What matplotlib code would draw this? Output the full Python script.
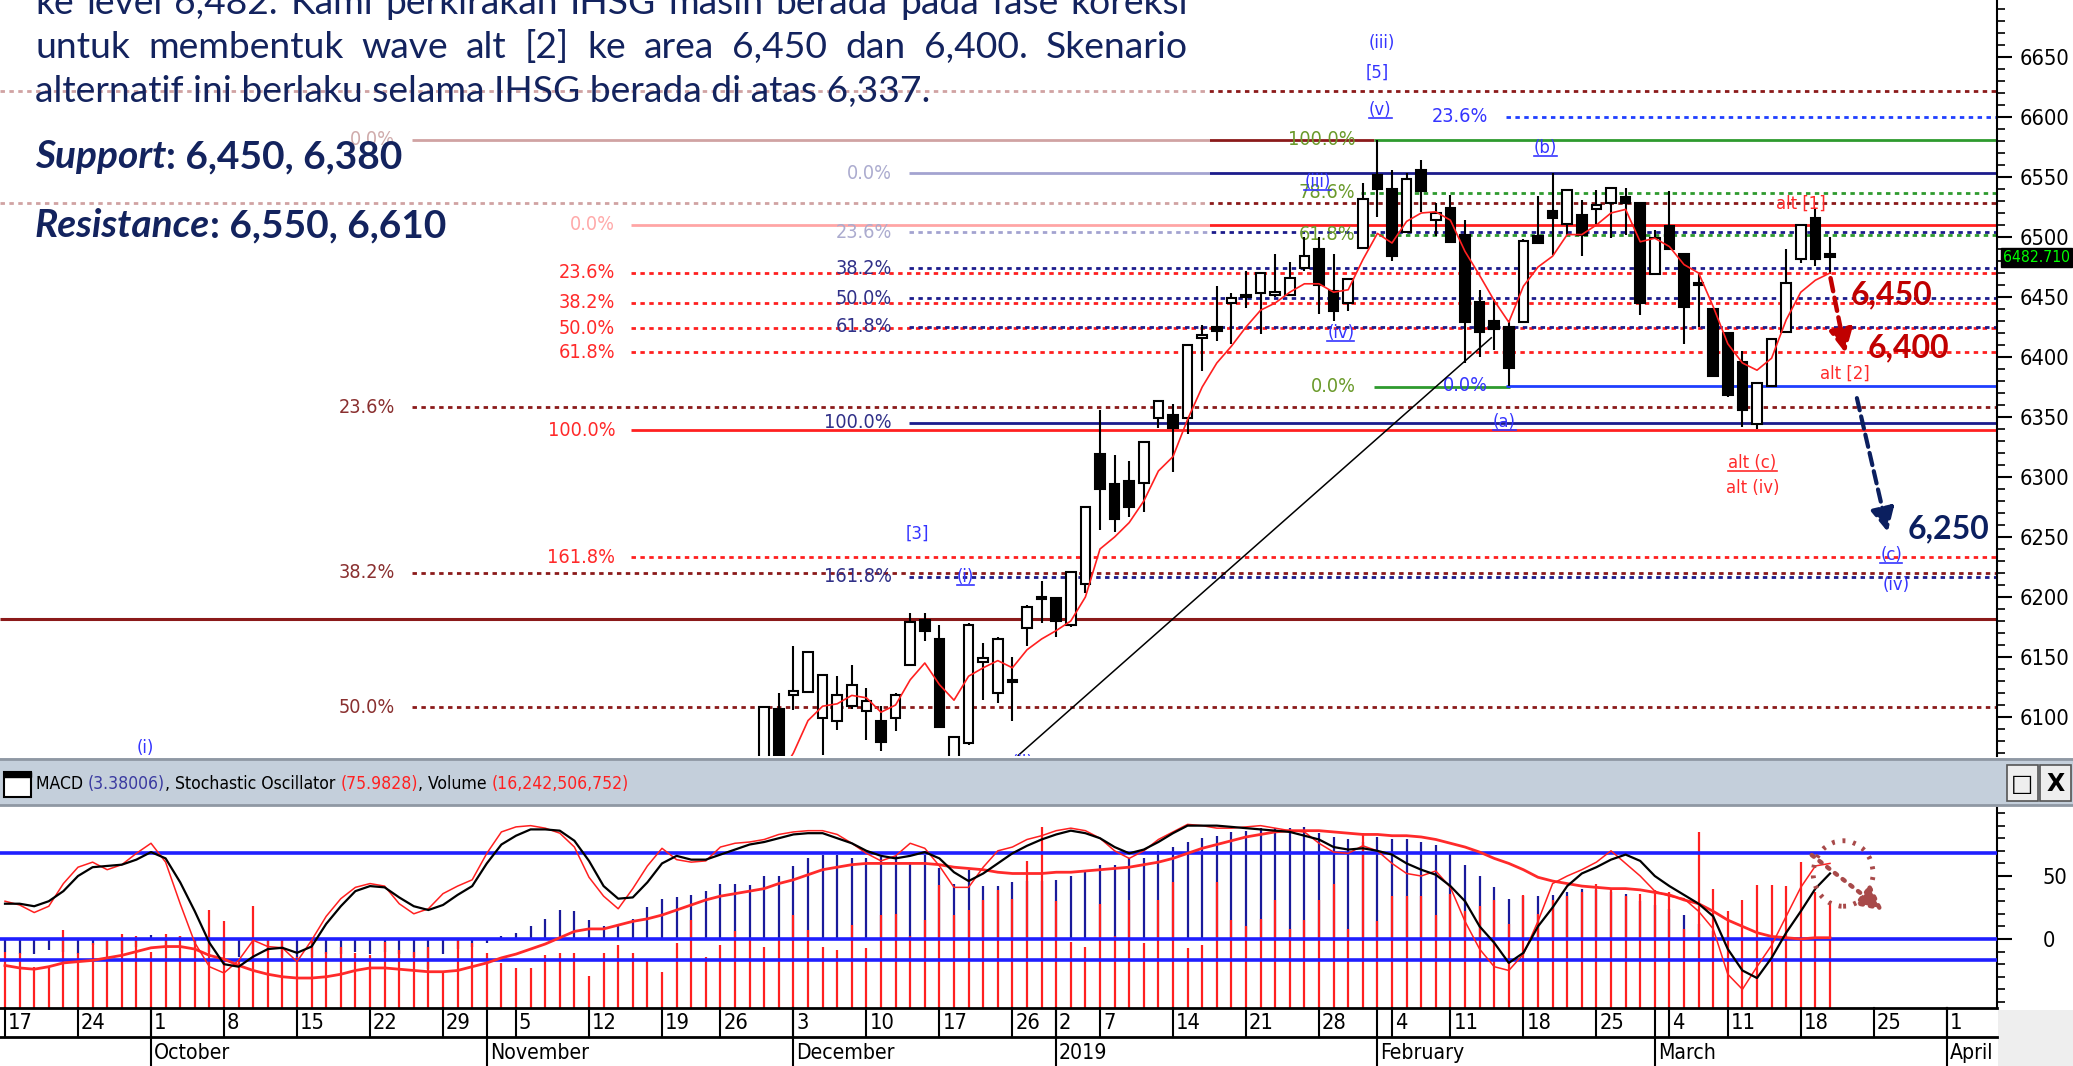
import numpy as np
import pandas as pd
import matplotlib
matplotlib.use("Agg")
import matplotlib.pyplot as plt
from matplotlib import font_manager as fm
from matplotlib import transforms as mtrans
from matplotlib.patches import Rectangle, Ellipse

W, H = 2073, 1066

# ---------------- data ----------------
# IDX trading calendar (exchange holidays removed)
holidays = ["2018-11-20", "2018-12-24", "2018-12-25", "2018-12-31",
            "2019-01-01", "2019-02-05", "2019-03-07"]
days = pd.bdate_range("2018-09-17", "2019-04-05")
days = days[~days.isin(pd.to_datetime(holidays))]

# candles, trading day index 52 (2018-12-04) .. 125 (2019-03-20)
cand_start = 52
opens = [6040, 6107, 6118, 6121, 6099, 6097, 6109, 6105, 6097, 6099,
         6143, 6181, 6165, 6050, 6078, 6146, 6120, 6129, 6174, 6198,
         6199, 6177, 6211, 6319, 6294, 6297, 6295, 6349, 6352, 6349,
         6416, 6425, 6445, 6450, 6453, 6452, 6452, 6474, 6490, 6455,
         6445, 6491, 6552, 6540, 6504, 6556, 6514, 6524, 6502, 6446,
         6430, 6425, 6429, 6501, 6522, 6511, 6518, 6523, 6528, 6533,
         6528, 6469, 6509, 6486, 6460, 6440, 6420, 6396, 6344, 6376,
         6421, 6482, 6516, 6486]
highs = [6109, 6120, 6159, 6155, 6136, 6134, 6143, 6124, 6109, 6120,
         6187, 6187, 6177, 6083, 6178, 6162, 6167, 6150, 6193, 6213,
         6200, 6222, 6276, 6356, 6318, 6313, 6330, 6364, 6361, 6411,
         6427, 6459, 6453, 6472, 6471, 6486, 6479, 6500, 6500, 6486,
         6466, 6545, 6581, 6556, 6553, 6564, 6528, 6535, 6514, 6456,
         6448, 6431, 6498, 6534, 6553, 6540, 6531, 6539, 6542, 6541,
         6529, 6506, 6538, 6487, 6470, 6441, 6421, 6405, 6379, 6416,
         6490, 6511, 6524, 6500]
lows = [6030, 6040, 6106, 6120, 6068, 6089, 6107, 6081, 6072, 6088,
        6143, 6163, 6092, 6040, 6077, 6114, 6112, 6097, 6159, 6178,
        6167, 6175, 6203, 6256, 6254, 6267, 6271, 6341, 6304, 6336,
        6388, 6413, 6411, 6441, 6419, 6450, 6451, 6472, 6436, 6430,
        6438, 6490, 6517, 6480, 6503, 6521, 6501, 6495, 6395, 6400,
        6406, 6376, 6428, 6494, 6485, 6502, 6484, 6511, 6499, 6502,
        6435, 6468, 6489, 6411, 6425, 6383, 6367, 6342, 6340, 6375,
        6420, 6478, 6476, 6469]
closes = [6108, 6045, 6122, 6154, 6135, 6118, 6127, 6113, 6079, 6118,
          6179, 6172, 6092, 6083, 6177, 6149, 6165, 6131, 6192, 6200,
          6180, 6221, 6275, 6290, 6265, 6275, 6329, 6363, 6341, 6410,
          6418, 6422, 6449, 6452, 6470, 6454, 6466, 6484, 6460, 6438,
          6465, 6532, 6540, 6484, 6548, 6538, 6520, 6496, 6429, 6421,
          6423, 6391, 6497, 6495, 6516, 6539, 6502, 6527, 6541, 6528,
          6445, 6499, 6490, 6442, 6462, 6384, 6368, 6356, 6378, 6415,
          6462, 6510, 6482, 6483]
last_close = 6482.710

# moving average, trading day 53 .. 125
ma_start = 53
ma = [6050, 6070, 6097, 6109, 6111, 6118, 6116, 6104, 6110, 6131,
      6145, 6127, 6114, 6134, 6141, 6147, 6141, 6156, 6165, 6172,
      6180, 6200, 6240, 6250, 6262, 6280, 6305, 6317, 6348, 6375,
      6395, 6409, 6425, 6439, 6445, 6454, 6461, 6461, 6454, 6456,
      6481, 6503, 6495, 6513, 6520, 6521, 6514, 6488, 6468, 6447,
      6429, 6459, 6475, 6484, 6502, 6502, 6510, 6520, 6523, 6496,
      6499, 6492, 6477, 6470, 6442, 6411, 6395, 6389, 6399, 6431,
      6454, 6464, 6470]

# trendline (trading day index, price)
trend_x = [69.4, 101.8]
trend_y = [6068, 6416]

# fibonacci sets: labels, prices
red_fib = (["0.0%", "23.6%", "38.2%", "50.0%", "61.8%", "100.0%", "161.8%"],
           [6510, 6470, 6445, 6424, 6404, 6339, 6233])
navy_fib = (["0.0%", "23.6%", "38.2%", "50.0%", "61.8%", "100.0%", "161.8%"],
            [6553, 6504, 6474, 6449, 6425, 6345, 6217])
brown_fib = (["0.0%", "23.6%", "38.2%", "50.0%"], [6581, 6358, 6220, 6108])
green_fib = (["100.0%", "78.6%", "61.8%", "0.0%"], [6581, 6537, 6502, 6375])
blue_fib = (["23.6%", "0.0%"], [6600, 6376])
wide_dotted = [6622, 6528]
wide_solid = [6182]

# wave labels: text, day index, price, colour, underline
waves = [("(iii)", 94.3, 6662, "b", False), ("[5]", 94.0, 6637, "b", False),
         ("(v)", 94.2, 6606, "b", True), ("(b)", 105.5, 6574, "b", True),
         ("(iii)", 89.9, 6546, "b", True), ("(iv)", 91.5, 6420, "b", True),
         ("(a)", 102.7, 6346, "b", True), ("(c)", 129.2, 6235, "b", True),
         ("(iv)", 129.5, 6210, "b", False), ("[3]", 62.5, 6253, "b", False),
         ("(i)", 65.8, 6217, "b", True), ("(i)", 9.6, 6074, "b", False),
         ("(ii)", 69.7, 6062, "b", False),
         ("alt [1]", 123.0, 6528, "r", False), ("alt [2]", 126.0, 6386, "r", False),
         ("alt (c)", 119.7, 6312, "r", True), ("alt (iv)", 119.7, 6291, "r", False)]
targets = [("6,450", 129.2, 6452, "#c00000"), ("6,400", 130.4, 6408, "#c00000"),
           ("6,250", 133.1, 6257, "#0b1f5f")]

# lower panel, trading day 0 .. 125 (panel units, 0 = zero line)
stoch_k = [30, 27, 21, 26, 44, 57, 61, 55, 59, 68,
           76, 61, 28, -3, -22, -27, -17, -1, -6, -7,
           -18, -1, 18, 32, 41, 44, 42, 28, 20, 24,
           36, 42, 47, 68, 85, 89, 90, 88, 84, 73,
           49, 34, 24, 40, 58, 72, 63, 61, 62, 73,
           76, 77, 79, 83, 85, 86, 86, 83, 76, 68,
           62, 66, 76, 72, 58, 41, 41, 57, 70, 73,
           79, 82, 86, 88, 86, 80, 70, 64, 70, 79,
           85, 91, 90, 88, 88, 89, 90, 88, 86, 85,
           76, 69, 68, 74, 70, 60, 52, 50, 54, 41,
           14, -8, -22, -25, -12, 14, 44, 50, 55, 61,
           70, 60, 50, 38, 34, 32, 22, 8, -28, -40,
           -22, -5, 18, 41, 58, 60]
stoch_d = [28, 28, 26, 30, 38, 50, 57, 58, 59, 63,
           69, 64, 45, 22, -3, -20, -22, -14, -8, -7,
           -11, -6, 12, 26, 38, 42, 41, 33, 26, 23,
           27, 35, 42, 60, 75, 82, 87, 87, 86, 78,
           62, 42, 32, 33, 45, 60, 66, 63, 63, 67,
           71, 75, 77, 80, 83, 84, 84, 80, 76, 70,
           66, 64, 66, 69, 64, 53, 46, 52, 60, 68,
           74, 79, 83, 86, 84, 80, 73, 68, 71, 77,
           84, 90, 90, 90, 89, 88, 87, 86, 85, 82,
           79, 73, 71, 72, 70, 67, 60, 55, 51, 42,
           30, 10, -3, -19, -11, 10, 25, 42, 52, 57,
           63, 67, 62, 50, 42, 35, 28, 18, -8, -25,
           -31, -15, 5, 22, 40, 52]
macd = [-21, -23, -24, -22, -19, -18, -17, -15, -13, -10,
        -7, -6, -6, -8, -13, -16, -21, -25, -28, -30,
        -31, -31, -30, -28, -25, -23, -23, -24, -25, -26,
        -26, -25, -22, -19, -15, -12, -8, -4, 1, 6,
        8, 8, 11, 14, 16, 19, 23, 27, 31, 34,
        36, 38, 40, 44, 47, 51, 55, 57, 59, 60,
        60, 60, 60, 60, 59, 57, 56, 55, 53, 52,
        52, 52, 53, 53, 54, 55, 56, 57, 59, 61,
        64, 68, 72, 75, 78, 81, 83, 85, 86, 86,
        86, 85, 84, 83, 83, 82, 82, 81, 79, 76,
        73, 69, 64, 60, 55, 49, 46, 44, 42, 41,
        40, 40, 39, 37, 35, 31, 28, 22, 15, 10,
        5, 2, 1, 0, 1, 1]
macd_hist = [-10, -12, -12, -9, -10, -12, -5, -9, -10, -6,
             3, -6, 2, -5, -10, -12, -14, -12, -10, -14,
             -16, -14, -12, -12, -10, -12, -10, -12, -14, -24,
             -12, -8, -6, -3, 2, 5, 10, 16, 23, 22,
             15, 10, 12, 16, 25, 32, 33, 35, 38, 44,
             44, 43, 50, 50, 58, 64, 67, 67, 64, 64,
             65, 66, 61, 67, 56, 44, 55, 42, 42, 45,
             46, 46, 47, 50, 55, 59, 59, 64, 64, 70,
             73, 77, 80, 82, 85, 86, 88, 88, 88, 89,
             84, 81, 79, 77, 81, 79, 79, 77, 75, 68,
             59, 50, 41, 32, 34, 34, 35, 37, 40, 39,
             37, 36, 30, 27, 24, 19, 12, 6, 2, 0,
             -1, -2, -1, 0, 1, 1]
volume = [-10, -11, -22, -22, 7, -11, -3, 0, 4, 2,
          -10, 4, 2, 0, 23, 14, -17, 26, 0, -1,
          -14, -1, -10, -6, -11, -13, -2, -9, -10, -6,
          -27, 0, -3, -11, -19, -23, -23, -13, -11, -11,
          -29, -11, -5, -11, -17, -26, -3, 15, -14, -5,
          6, 0, -6, 0, 19, 7, -6, -9, 11, -7,
          19, 20, 2, 15, 43, 19, 23, 31, 39, 32,
          62, 89, 30, -2, -6, 28, 2, 31, -3, 31,
          45, -7, -5, 45, 15, 10, 16, 31, 8, 15,
          31, 44, 8, 84, 14, 34, 34, 34, 19, 36,
          22, 26, 31, 12, 35, 20, 31, 34, 37, 44,
          40, 34, 36, 39, 37, 8, 85, 40, 22, 31,
          43, 43, 42, 61, 37, 30]

para = ["ke level 6,482. Kami perkirakan IHSG masih berada pada fase koreksi",
        "untuk membentuk wave alt [2] ke area 6,450 dan 6,400. Skenario",
        "alternatif ini berlaku selama IHSG berada di atas 6,337."]

# ---------------- fonts ----------------
entries = fm.fontManager.ttflist
names = {f.name for f in entries}
if "Liberation Sans Narrow" in names:
    NKW, NS = dict(family="Liberation Sans Narrow"), 1.18
elif any(f.name == "DejaVu Sans" and "condensed" in str(f.stretch) for f in entries):
    NKW, NS = dict(family="DejaVu Sans", fontstretch="condensed"), 0.98
else:
    NKW, NS = dict(family="Liberation Sans"), 1.0
BODY = "Lato" if "Lato" in names else "DejaVu Sans"
NAVY = "#13235e"
BLUE_T = "#3535ff"
RED_T = "#ff2a2a"


def nf(size):
    return dict(fontsize=size * NS, **NKW)


# ---------------- figure ----------------
fig = plt.figure(figsize=(W / 100, H / 100), dpi=100)
fig.patch.set_facecolor("white")
PX = mtrans.Affine2D().scale(1, -1).translate(0, H)   # pixel coords, origin top-left


def frac(x0, y0, x1, y1):
    return [x0 / W, 1 - y1 / H, (x1 - x0) / W, (y1 - y0) / H]


X0, X1 = -5 / 14.6, (1997 - 5) / 14.6

ax_bg = fig.add_axes([0, 0, 1, 1])
ax_bg.set_xlim(0, W)
ax_bg.set_ylim(H, 0)
ax_bg.axis("off")

ax = fig.add_axes(frac(0, 0, 1997, 756))
ax.set_xlim(X0, X1)
ax.set_ylim(6067.5, 6697.5)
for s in ["left", "top", "bottom"]:
    ax.spines[s].set_visible(False)
ax.spines["right"].set_linewidth(1.5)
ax.yaxis.tick_right()
ax.set_xticks([])
ax.set_yticks(np.arange(6100, 6651, 50))
ax.set_yticks(np.arange(6070, 6700, 10), minor=True)
ax.tick_params(axis="y", which="major", length=11, width=1.5, pad=5, labelsize=16 * NS)
ax.tick_params(axis="y", which="minor", length=6, width=1.2)
for t in ax.get_yticklabels():
    t.update(NKW)

r = fig.canvas.get_renderer()
DOT = (0, (1.6, 1.6))


def fib(levels, x_lbl, x_start, line_c, text_c, ends=None, starts=None):
    labels, prices = levels
    for k, (lab, p) in enumerate(zip(labels, prices)):
        ls = "-" if lab in ("0.0%", "100.0%") else DOT
        xs = starts[k] if starts else x_start
        xe = ends[k] if ends else X1
        ax.hlines(p, xs, xe, colors=line_c, linestyles=ls, lw=2, zorder=2)
        ax.text(x_lbl, p, lab, color=text_c, ha="right", va="center", zorder=3, **nf(14.5))


for p in wide_dotted:
    ax.hlines(p, X0, X1, colors="#8b1a1a", linestyles=DOT, lw=2, zorder=2)
for p in wide_solid:
    ax.hlines(p, X0, X1, colors="#8b1a1a", lw=2.2, zorder=2)

fib(brown_fib, 26.7, 27.9, "#8b1a1a", "#8a3030", ends=[93.8, X1, X1, X1])
fib(red_fib, 41.8, 42.9, "#ff2020", RED_T)
fib(navy_fib, 60.75, 61.9, "#1c1c8c", "#303088")
fib(green_fib, 92.5, 93.8, "#2e9a2e", "#6a9a2a", ends=[X1, X1, X1, 103.1],
    starts=[93.8, 92.9, 92.9, 93.8])
fib(blue_fib, 101.6, 102.8, "#1f3fff", BLUE_T)

# translucent box behind the commentary text
ax.add_patch(Rectangle((X0, 6489), 1210 / 14.6, 300, facecolor="white",
                       alpha=0.6, edgecolor="none", zorder=3.5))

ax.plot(trend_x, trend_y, color="black", lw=1.1, zorder=4)

cidx = np.arange(cand_start, cand_start + len(opens))
for i, o, h, l, c in zip(cidx, opens, highs, lows, closes):
    ax.vlines(i, l, h, color="black", lw=1.5, zorder=5)
    ax.add_patch(Rectangle((i - 0.33, min(o, c)), 0.66, max(abs(c - o), 1.2),
                           facecolor="white" if c >= o else "black",
                           edgecolor="black", lw=1.5, zorder=6))
ax.plot(np.arange(ma_start, ma_start + len(ma)), ma, color="#ff2020", lw=1.2, zorder=7)


def label(x, y, s, color, underline=False, **kw):
    t = ax.text(x, y, s, color=color, ha="center", va="center", zorder=8, clip_on=True, **kw)
    if underline:
        bb = t.get_window_extent(r)
        inv = ax.transData.inverted()
        (ux0, uy), (ux1, _) = inv.transform([(bb.x0, bb.y0 + 1), (bb.x1, bb.y0 + 1)])
        ax.plot([ux0, ux1], [uy, uy], color=color, lw=1.2, zorder=8)
    return t


for s, xi, p, col, ul in waves:
    label(xi, p, s, BLUE_T if col == "b" else RED_T, ul, **nf(13.5))
for s, xi, p, col in targets:
    label(xi, p, s, col, fontsize=23, family=BODY, fontweight="bold")

# forecast arrows
ax.annotate("", xy=(126.1, 6401), xytext=(125.0, 6468),
            arrowprops=dict(arrowstyle="-|>,head_length=0.7,head_width=0.35", color="#c00000",
                            lw=3.2, ls=(0, (3, 1.5)), mutation_scale=20), zorder=8)
ax.annotate("", xy=(129.0, 6252), xytext=(126.8, 6368),
            arrowprops=dict(arrowstyle="-|>,head_length=0.7,head_width=0.35", color="#0b1f5f",
                            lw=3.0, ls=(0, (3, 1.5)), mutation_scale=20), zorder=8)

# last price tag
ax.text(1.003, last_close, f"{last_close:.3f}", color="#00ff00", ha="left", va="center",
        transform=mtrans.blended_transform_factory(ax.transAxes, ax.transData),
        bbox=dict(boxstyle="square,pad=0.12", fc="black", ec="black"), zorder=10,
        clip_on=False, **nf(11.5))

# commentary text
t3 = ax.text(35, 102, para[2], transform=PX, fontsize=26, family=BODY, color=NAVY,
             va="baseline", zorder=9)
fs = 26 * 895 / t3.get_window_extent(r).width
t3.set_fontsize(fs)


def justify(words, x0, x1, y):
    ts = [ax.text(x0, y, w, transform=PX, fontsize=fs, family=BODY, color=NAVY,
                  va="baseline", zorder=9) for w in words]
    widths = [t.get_window_extent(r).width for t in ts]
    gap = (x1 - x0 - sum(widths)) / (len(words) - 1)
    x = x0
    for t, w in zip(ts, widths):
        t.set_x(x)
        x += w + gap


justify(para[0].split(), 35, 1188, 14)
justify(para[1].split(), 35, 1188, 58)


def runs(axis, x, y, parts, transform=None, **base):
    for s, kw in parts:
        opts = dict(base)
        opts.update(kw)
        if transform is not None:
            opts["transform"] = transform
        t = axis.text(x, y, s, va="baseline", zorder=9, **opts)
        x += t.get_window_extent(r).width
    return x


runs(ax, 35, 168, [("Support", dict(style="italic")), (": 6,450, 6,380", {})],
     transform=PX, color=NAVY, fontweight="bold", fontsize=28, family=BODY)
runs(ax, 35, 237, [("Resistance", dict(style="italic")), (": 6,550, 6,610", {})],
     transform=PX, color=NAVY, fontweight="bold", fontsize=28, family=BODY)

# ---------------- header bar ----------------
ax_bg.add_patch(Rectangle((0, 758), W, 48, facecolor="#c4cfdb", edgecolor="none"))
ax_bg.plot([0, W], [759, 759], color="#8f98a3", lw=2)
ax_bg.plot([0, W], [805, 805], color="#8f98a3", lw=2)
ax_bg.add_patch(Rectangle((4, 772), 27, 25, facecolor="white", edgecolor="black", lw=1.5))
ax_bg.add_patch(Rectangle((4, 772), 27, 5, facecolor="black", edgecolor="black", lw=1))
runs(ax_bg, 36, 789, [("MACD ", {}), ("(3.38006)", dict(color="#3a3aa0")),
                      (", Stochastic Oscillator ", {}), ("(75.9828)", dict(color="#ff2020")),
                      (", Volume ", {}), ("(16,242,506,752)", dict(color="#ff2020"))],
     color="black", **nf(12.9))
for bx, glyph in [(2007, "\u25a1"), (2040, "X")]:
    ax_bg.add_patch(Rectangle((bx, 765), 31, 36, facecolor="#eeeeee", edgecolor="#555555", lw=1.2))
    ax_bg.text(bx + 15.5, 784, glyph, ha="center", va="center", fontsize=17,
               family="DejaVu Sans", fontweight="bold", color="black")
ax_bg.add_patch(Rectangle((1998, 1010), W - 1998, 56, facecolor="#eeeeee", edgecolor="none"))

# ---------------- lower panel ----------------
axl = fig.add_axes(frac(0, 808, 1997, 1008))
axl.set_xlim(X0, X1)
axl.set_ylim(-54.8, 104)
x = np.arange(len(stoch_k))
axl.vlines(x, 0, macd_hist, color="#1a1a9a", lw=1.6, zorder=2)
axl.vlines(x, -54.8, volume, color="#ff2020", lw=1.6, zorder=3)
for lv in (68, 0, -17):
    axl.axhline(lv, color="#1f1fff", lw=2.6, zorder=4)
axl.plot(x, macd, color="#ff2a2a", lw=2.0, zorder=5)
axl.plot(x, stoch_k, color="#ff2020", lw=1.1, zorder=6)
axl.plot(x, stoch_d, color="black", lw=1.6, zorder=6)
axl.add_patch(Ellipse((125.9, 52), 4.1, 52, fill=False, edgecolor="#a84a4a",
                      lw=3.5, ls=(0, (0.6, 1.6)), zorder=7))
axl.annotate("", xy=(128.8, 21), xytext=(123.6, 68),
             arrowprops=dict(arrowstyle="-|>,head_length=0.8,head_width=0.4", color="#a84a4a",
                             lw=3.2, ls=(0, (0.6, 1.6)), mutation_scale=18), zorder=7)
for s in ["left", "top", "bottom"]:
    axl.spines[s].set_visible(False)
axl.spines["right"].set_linewidth(1.5)
axl.yaxis.tick_right()
axl.set_xticks([])
axl.set_yticks([0, 50])
axl.set_yticks(np.arange(-50, 101, 10), minor=True)
axl.tick_params(axis="y", which="major", length=11, width=1.5, pad=22, labelsize=16 * NS)
axl.tick_params(axis="y", which="minor", length=6, width=1.2)
for t in axl.get_yticklabels():
    t.update(NKW)

# ---------------- date axis ----------------
axd = fig.add_axes(frac(0, 1008, 1997, 1066))
axd.set_xlim(X0, X1)
axd.set_ylim(0, 1)
axd.axis("off")
axd.plot([X0, X1], [1, 1], color="black", lw=2, clip_on=False)
axd.plot([X0, X1], [0.5, 0.5], color="black", lw=2, clip_on=False)
dpos = pd.Series(np.arange(len(days)), index=days)
iso = days.isocalendar()
week_first = dpos.groupby([iso.year.values, iso.week.values]).min()
month_first = dpos.groupby([days.year, days.month]).min()
for i in week_first.values:
    if i > X1:
        continue
    axd.plot([i, i], [0.5, 1], color="black", lw=1.5, clip_on=False)
    axd.text(i + 0.2, 0.74, str(days[i].day), ha="left", va="center", **nf(16))
for i in month_first.values:
    if i > X1 or days[i].day > 7:
        continue
    axd.plot([i, i], [0, 1], color="black", lw=1.5, clip_on=False)
    name = str(days[i].year) if days[i].month == 1 else days[i].strftime("%B")
    axd.text(i + 0.2, 0.22, name, ha="left", va="center", **nf(15.5))

fig.savefig("out.png", dpi=100)
